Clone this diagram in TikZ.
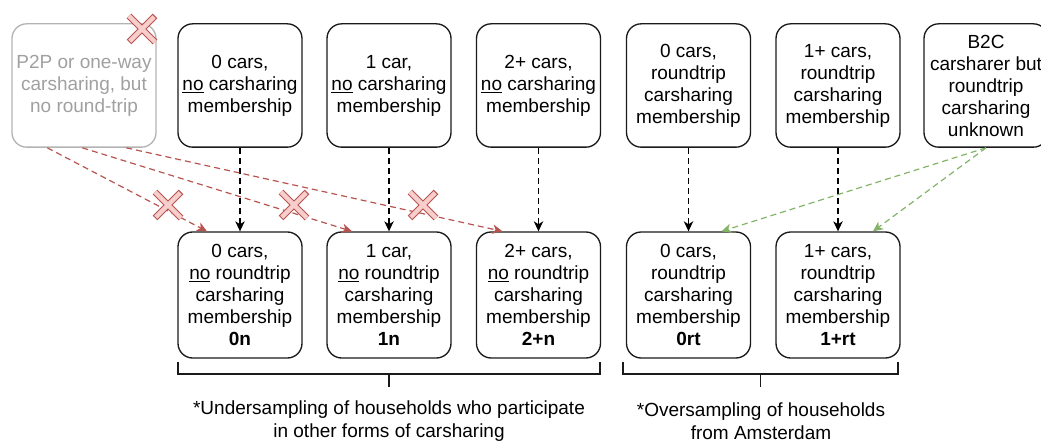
\documentclass[tikz,border=0pt]{standalone}
\usepackage{fontspec}
\setmainfont{Liberation Sans}
\usetikzlibrary{calc,arrows.meta}

\definecolor{redline}{HTML}{B85450}
\definecolor{redfill}{HTML}{F8CECC}
\definecolor{greenline}{HTML}{82B366}
\definecolor{fadedborder}{HTML}{B3B3B3}
\definecolor{fadedtext}{HTML}{A0A0A0}
\definecolor{boxborder}{HTML}{1A1A1A}

\tikzset{
  box/.style={draw=boxborder, line width=1pt, rounded corners=11pt, align=center,
    inner sep=0pt, minimum width=93pt, font=\fontsize{14.25}{16.5}\selectfont},
  topbox/.style={box, minimum height=92.5pt},
  botbox/.style={box, minimum height=94.5pt},
  tip/.style={-{Stealth[length=7.5pt,width=7pt,inset=2.2pt]}},
  blackflow/.style={tip, draw=black, line width=0.9pt, dash pattern=on 4.5pt off 3pt},
  redflow/.style={tip, draw=redline, line width=0.9pt, dash pattern=on 4.5pt off 3pt},
  greenflow/.style={tip, draw=greenline, line width=0.9pt, dash pattern=on 4.5pt off 3pt},
  bracket/.style={draw=boxborder, line width=0.8pt},
  note/.style={align=center, inner sep=0pt, font=\fontsize{14.25}{17}\selectfont},
  nopemark/.pic={
    \draw[redline, line width=5pt, line cap=butt] (-13,-13) -- (13,13) (-13,13) -- (13,-13);
    \draw[redfill, line width=3.2pt, line cap=butt, shorten <=0.8pt, shorten >=0.8pt]
      (-13,-13) -- (13,13) (-13,13) -- (13,-13);
  }
}

\begin{document}
\begin{tikzpicture}[x=0.75pt,y=-0.75pt]
\useasboundingbox (0,0) rectangle (1041,442);

% source categories (top row)
\node[topbox, minimum width=108pt, draw=fadedborder, text=fadedtext] (p2p) at (84,85.5)
  {P2P or one-way\\carsharing, but\\no round-trip};
\node[topbox] (t0) at (240,85.5) {0 cars,\\\underline{no} carsharing\\membership};
\node[topbox] (t1) at (389,85.5) {1 car,\\\underline{no} carsharing\\membership};
\node[topbox] (t2) at (538.5,85.5) {2+ cars,\\\underline{no} carsharing\\membership};
\node[topbox] (t0rt) at (688.5,85.5) {0 cars,\\roundtrip\\carsharing\\membership};
\node[topbox] (t1rt) at (838,85.5) {1+ cars,\\roundtrip\\carsharing\\membership};
\node[topbox] (b2c) at (986,85.5) {B2C\\carsharer but\\roundtrip\\carsharing\\unknown};

% target strata (bottom row)
\node[botbox] (b0n) at (240,295) {0 cars,\\\underline{no} roundtrip\\carsharing\\membership\\\textbf{0n}};
\node[botbox] (b1n) at (389,295) {1 car,\\\underline{no} roundtrip\\carsharing\\membership\\\textbf{1n}};
\node[botbox] (b2n) at (538.5,295) {2+ cars,\\\underline{no} roundtrip\\carsharing\\membership\\\textbf{2+n}};
\node[botbox] (b0rt) at (688.5,295) {0 cars,\\roundtrip\\carsharing\\membership\\\textbf{0rt}};
\node[botbox] (b1rt) at (838,295) {1+ cars,\\roundtrip\\carsharing\\membership\\\textbf{1+rt}};

% direct assignments
\draw[blackflow] (t0) -- (b0n);
\draw[blackflow] (t1) -- (b1n);
\draw[blackflow] (t2) -- (b2n);
\draw[blackflow] (t0rt) -- (b0rt);
\draw[blackflow] (t1rt) -- (b1rt);

% rejected assignments
\draw[redflow] ($(p2p.south west)+(36,0)$) -- ($(b0n.north)+(-33,0)$);
\draw[redflow] ($(p2p.south west)+(71,0)$) -- ($(b1n.north)+(-37,0)$);
\draw[redflow] ($(p2p.south west)+(115,0)$) -- ($(b2n.north)+(-36,0)$);

% B2C assignments
\draw[greenflow] (b2c.south) -- ($(b0rt.north)+(33,0)$);
\draw[greenflow] (b2c.south) -- ($(b1rt.north)+(35,0)$);

% crosses
\pic at (142,29) {nopemark};
\pic at (168,205) {nopemark};
\pic at (294,205) {nopemark};
\pic at (423,205) {nopemark};

% brackets and notes
\draw[bracket] (178,362) -- (178,374) -- (600,374) -- (600,362);
\draw[bracket] (623,362) -- (623,374) -- (898,374) -- (898,362);
\coordinate (lefttick) at (389,374);
\coordinate (righttick) at (760.5,374);
\node[note] (undernote) at (389,421) {*Undersampling of households who participate\\in other forms of carsharing};
\node[note] (overnote) at (761,421) {*Oversampling of households\\from Amsterdam};
\draw[bracket] (lefttick) -- ++(0,13);
\draw[bracket] (righttick) -- ++(0,13);
\end{tikzpicture}
\end{document}
